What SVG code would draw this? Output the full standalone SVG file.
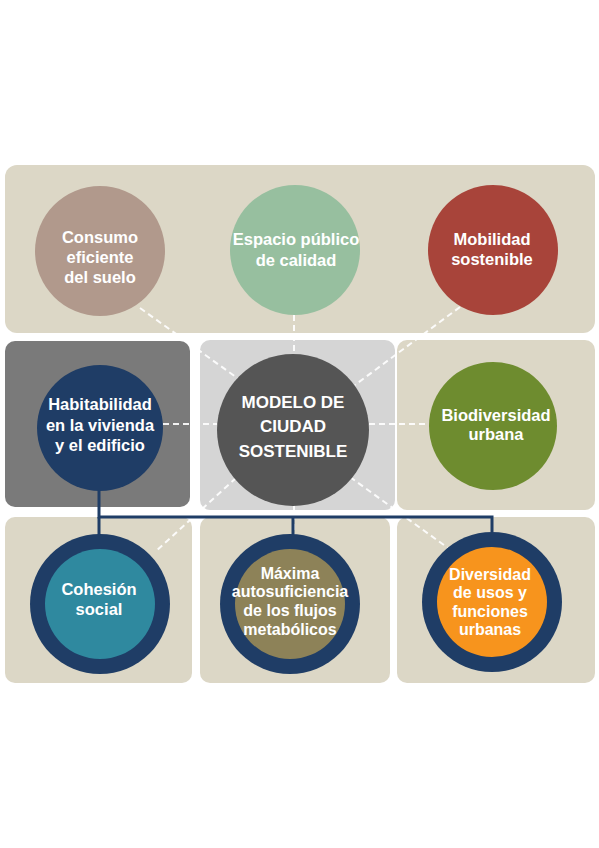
<svg xmlns="http://www.w3.org/2000/svg" width="599" height="848" viewBox="0 0 599 848">
<style>
.panel{fill:#dcd7c6}
.t{font-family:"Liberation Sans",Arial,sans-serif;font-weight:bold;fill:#ffffff;text-anchor:middle;font-size:16.5px}
.s{font-size:16px}
.tm{font-family:"Liberation Sans",Arial,sans-serif;fill:#ffffff;text-anchor:middle;font-size:17px;font-weight:bold}
.dash{stroke:#ffffff;stroke-width:2;stroke-dasharray:6 4;fill:none;opacity:0.9}
.solid{stroke:#1f3d66;stroke-width:3;fill:none}
.ring{fill:#1f3d66}
</style>
<rect width="599" height="848" fill="#ffffff"/>
<g id="panels">
<rect class="panel" x="5" y="165" width="590" height="168" rx="12"/>
<rect x="5" y="341" width="185" height="166" rx="10" fill="#7a7a7a"/>
<rect x="200" y="340" width="195" height="170" rx="10" fill="#d5d5d5"/>
<rect class="panel" x="397" y="340" width="198" height="170" rx="10"/>
<rect class="panel" x="5" y="517" width="187" height="166" rx="10"/>
<rect class="panel" x="200" y="517" width="190" height="166" rx="10"/>
<rect class="panel" x="397" y="517" width="198" height="166" rx="10"/>
</g>
<g id="connectors">
<line class="dash" x1="140" y1="308" x2="240" y2="380"/>
<line class="dash" x1="294" y1="315" x2="294" y2="352"/>
<line class="dash" x1="460" y1="307" x2="355" y2="385"/>
<line class="dash" x1="163" y1="424" x2="217" y2="424"/>
<line class="dash" x1="369" y1="424" x2="428" y2="424"/>
<line class="dash" x1="236" y1="478" x2="155" y2="552"/>
<line class="dash" x1="294" y1="504" x2="294" y2="536"/>
<line class="dash" x1="350" y1="477" x2="448" y2="548"/>
<polyline class="solid" points="99,488 99,517 492,517 492,532"/>
<line class="solid" x1="99" y1="517" x2="99" y2="537"/>
<line class="solid" x1="293" y1="517" x2="293" y2="537"/>
</g>
<g id="consumo">
<circle cx="100" cy="251" r="65" fill="#b1998c"/>
<text class="t" x="100" y="243">Consumo</text>
<text class="t" x="100" y="263">eficiente</text>
<text class="t" x="100" y="283">del suelo</text>
</g>
<g id="espacio">
<circle cx="295" cy="250" r="65" fill="#97bf9f"/>
<text class="t" x="296" y="245">Espacio público</text>
<text class="t" x="296" y="266">de calidad</text>
</g>
<g id="mobilidad">
<circle cx="493" cy="250" r="65" fill="#a8443a"/>
<text class="t" x="492" y="245">Mobilidad</text>
<text class="t" x="492" y="265">sostenible</text>
</g>
<g id="habitabilidad">
<circle cx="100" cy="428" r="63" fill="#1f3d66"/>
<text class="t" x="100" y="410">Habitabilidad</text>
<text class="t" x="100" y="431">en la vivienda</text>
<text class="t" x="100" y="451">y el edificio</text>
</g>
<g id="modelo">
<circle cx="293" cy="430" r="76" fill="#555555"/>
<text class="tm" x="293" y="408">MODELO DE</text>
<text class="tm" x="293" y="432">CIUDAD</text>
<text class="tm" x="293" y="457">SOSTENIBLE</text>
</g>
<g id="biodiversidad">
<circle cx="493" cy="426" r="64" fill="#6e8c2f"/>
<text class="t" x="496" y="421">Biodiversidad</text>
<text class="t" x="496" y="440">urbana</text>
</g>
<g id="cohesion">
<circle class="ring" cx="100" cy="604" r="70"/>
<circle cx="100" cy="604" r="55" fill="#2f899f"/>
<text class="t" x="99" y="595">Cohesión</text>
<text class="t" x="99" y="615">social</text>
</g>
<g id="maxima">
<circle class="ring" cx="290" cy="604" r="70"/>
<circle cx="290" cy="604" r="55" fill="#8d8258"/>
<text class="t s" x="290" y="579">Máxima</text>
<text class="t s" x="290" y="597">autosuficiencia</text>
<text class="t s" x="290" y="616">de los flujos</text>
<text class="t s" x="290" y="635">metabólicos</text>
</g>
<g id="diversidad">
<circle class="ring" cx="492" cy="602" r="70"/>
<circle cx="492" cy="602" r="55" fill="#f7941d"/>
<text class="t s" x="490" y="580">Diversidad</text>
<text class="t s" x="490" y="598">de usos y</text>
<text class="t s" x="490" y="617">funciones</text>
<text class="t s" x="490" y="635">urbanas</text>
</g>
</svg>
